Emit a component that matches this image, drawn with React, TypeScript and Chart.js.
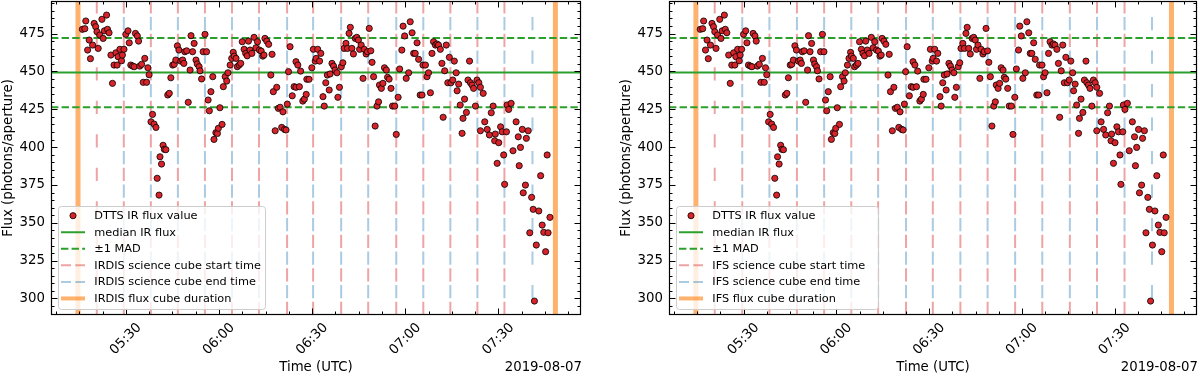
import React, { useEffect, useRef } from "react";
import { Chart, registerables } from "chart.js";
Chart.register(...registerables);

const FONT = '"DejaVu Sans", Verdana, sans-serif';

// Observation times in minutes after 05:00 UTC (2019-08-07) and DTTS IR flux
const fluxTimes = [
  16.0, 16.8, 17.1, 18.2, 17.7, 18.6, 19.3, 19.8, 20.3, 20.7, 21.1, 21.6, 22.3, 22.7, 23.1, 23.8, 24.1, 24.6, 25.2, 25.7,
  26.2, 26.8, 27.2, 27.5, 28.1, 28.6, 28.9, 29.4, 30.0, 30.7, 31.1, 31.6, 32.2, 32.7, 33.1, 33.7, 34.1, 34.5, 35.1, 35.6,
  36.1, 36.7, 37.1, 37.5, 38.1, 38.6, 39.1, 39.7, 40.1, 40.7, 41.0, 41.5, 42.0, 42.4, 42.9, 43.5, 44.0, 44.5, 45.1, 45.6,
  46.1, 46.6, 47.1, 47.7, 48.3, 48.7, 49.0, 49.6, 50.1, 50.7, 51.0, 51.5, 52.0, 52.6, 53.0, 53.6, 53.9, 54.4, 54.9, 55.5,
  56.0, 56.5, 56.9, 57.4, 58.0, 58.4, 59.0, 59.5, 59.8, 60.3, 61.0, 61.4, 62.0, 62.5, 62.9, 63.6, 64.1, 64.6, 64.9, 65.5,
  65.9, 66.5, 67.0, 67.5, 68.1, 68.6, 69.1, 69.5, 70.0, 70.6, 71.3, 71.9, 72.4, 73.0, 73.6, 74.1, 74.5, 74.8, 75.4, 76.0,
  76.7, 77.1, 77.5, 78.1, 78.6, 79.1, 79.7, 80.2, 80.6, 81.1, 81.6, 82.0, 82.4, 82.9, 83.6, 84.2, 84.8, 84.8, 85.4, 85.9,
  86.3, 87.0, 87.5, 88.1, 88.3, 89.0, 89.9, 90.4, 91.0, 91.3, 91.8, 92.4, 92.8, 93.5, 93.9, 94.4, 94.9, 95.5, 95.8, 96.4,
  96.9, 97.4, 98.0, 98.3, 98.8, 99.4, 99.9, 100.3, 100.9, 101.4, 101.9, 102.3, 102.8, 103.3, 103.9, 104.4, 104.9, 105.3, 105.8, 106.4,
  106.8, 107.4, 107.8, 108.4, 108.9, 109.3, 109.8, 110.3, 110.9, 111.4, 111.7, 112.3, 112.8, 113.3, 113.9, 114.3, 114.8, 115.4, 115.9, 116.6,
  117.1, 117.7, 118.2, 118.9, 119.3, 119.8, 120.3, 121.1, 121.6, 122.2, 122.7, 123.2, 123.8, 124.3, 124.8, 125.4, 125.7, 126.5, 127.0, 127.5,
  128.1, 128.6, 129.1, 129.7, 130.2, 130.7, 131.3, 131.8, 132.2, 132.7, 133.2, 133.7, 134.2, 134.7, 135.3, 135.8, 136.4, 136.7, 137.2, 137.7,
  138.3, 138.6, 139.1, 139.7, 140.2, 140.7, 141.0, 141.5, 142.0, 142.6, 143.1, 143.7, 144.2, 144.2, 145.1, 145.6, 146.4, 147.1, 147.7, 148.3,
  148.8, 149.0, 149.6, 150.1, 150.7, 151.2, 151.7, 152.0, 152.6, 152.8, 153.3, 154.1, 154.7, 155.7, 156.4, 156.7, 157.1, 157.7, 158.0, 158.7,
  159.0, 159.6, 160.1, 160.7, 161.2, 161.6, 162.2, 163.0, 163.6, 164.1, 164.6, 165.2, 165.7, 166.0, 166.6,
];
const fluxValues = [
  477.8, 478.2, 483.3, 470.7, 464.1, 458.4, 467.4, 481.7, 479.5, 476.2, 465.2, 474.0, 484.4, 471.8, 476.8, 487.2, 477.8, 475.5, 460.8, 442.1,
  454.2, 462.3, 454.2, 459.7, 464.6, 457.0, 460.8, 464.6, 474.5, 476.8, 468.9, 454.2, 453.5, 453.1, 475.1, 473.4, 470.0, 453.5, 454.7, 442.8,
  458.6, 442.8, 452.4, 447.8, 416.7, 421.6, 415.2, 413.0, 379.4, 368.3, 393.6, 388.8, 401.2, 398.5, 398.3, 434.4, 435.5, 445.8, 454.2, 454.7,
  457.5, 466.9, 464.1, 456.8, 457.5, 455.3, 463.0, 463.6, 429.6, 450.9, 473.6, 463.0, 468.5, 457.5, 454.9, 453.1, 450.4, 445.0, 463.0, 474.5,
  463.0, 431.1, 424.0, 436.6, 446.5, 405.1, 409.5, 409.0, 412.4, 426.0, 415.0, 439.9, 446.5, 443.6, 449.1, 454.2, 458.6, 462.6, 460.1, 458.6,
  453.1, 454.2, 455.3, 469.6, 464.6, 461.9, 460.3, 470.0, 464.1, 461.9, 472.5, 465.6, 469.6, 464.1, 463.4, 460.1, 460.8, 471.8, 470.0, 467.9,
  447.6, 461.3, 436.6, 410.8, 439.5, 425.6, 426.3, 413.0, 423.3, 411.7, 411.3, 428.4, 449.8, 466.3, 433.9, 439.9, 439.5, 456.4, 454.2, 439.9,
  450.2, 430.4, 431.7, 434.8, 444.8, 444.8, 452.4, 464.6, 456.8, 458.6, 464.6, 456.8, 461.9, 433.3, 427.1, 442.5, 447.6, 437.7, 448.3, 455.3,
  453.5, 450.9, 449.1, 432.9, 439.5, 453.1, 455.7, 465.2, 468.5, 465.2, 475.1, 479.1, 465.2, 461.5, 471.8, 472.5, 470.7, 464.6, 467.4, 445.4,
  464.6, 461.5, 463.0, 478.4, 463.6, 456.0, 446.5, 413.9, 427.1, 429.9, 441.0, 438.8, 442.1, 452.4, 450.9, 446.1, 444.9, 438.8, 427.1, 427.1,
  408.4, 432.9, 451.6, 464.1, 479.9, 473.4, 445.4, 449.1, 482.8, 475.5, 461.9, 461.9, 468.9, 458.0, 434.4, 434.4, 454.2, 454.2, 446.5, 449.1,
  435.9, 461.9, 469.6, 467.4, 468.1, 467.4, 464.6, 455.3, 419.7, 450.4, 467.4, 442.5, 459.3, 442.5, 444.3, 456.8, 449.1, 437.2, 441.6, 427.8,
  409.1, 419.0, 431.7, 422.9, 444.3, 456.8, 442.5, 441.0, 438.8, 427.1, 444.3, 442.5, 439.5, 410.8, 435.5, 416.7, 411.7, 408.0, 422.7, 427.1,
  404.2, 408.6, 389.3, 402.9, 413.4, 410.1, 394.8, 375.4, 410.1, 427.8, 424.9, 428.9, 397.6, 416.7, 406.8, 387.7, 399.8, 411.7, 369.8, 374.9,
  405.8, 410.8, 343.4, 366.8, 358.9, 298.3, 335.3, 357.8, 381.1, 348.5, 343.7, 330.9, 394.8, 343.4, 353.6,
];

const medianFlux = 449.2;
const madFlux = 22.9;

// Science cube start / end times (minutes after 05:00 UTC)
const irdisStartTimes = [20.65, 29.35, 38.06, 46.77, 55.48, 64.19, 72.9, 81.94, 90.32, 99.35, 108.06, 117.1, 125.81, 134.52, 143.23, 151.94];
const irdisEndTimes = [29.35, 38.06, 46.77, 55.48, 64.19, 72.9, 81.94, 90.32, 99.35, 108.06, 117.1, 125.81, 134.52, 143.23, 151.94, 160.97];
const ifsStartTimes = [20.68, 29.58, 38.36, 47.26, 56.05, 64.83, 73.51, 82.53, 91.19, 100.1, 108.9, 117.8, 126.58, 135.49, 144.27, 153.17];
const ifsEndTimes = [29.58, 38.36, 47.26, 56.05, 64.83, 73.51, 82.53, 91.19, 100.1, 108.9, 117.8, 126.58, 135.49, 144.27, 153.17, 162.05];
const fluxCubeTimes = [14.6, 168.35];

const xTickValues = [30, 60, 90, 120, 150];
const xTickLabels = ["05:30", "06:00", "06:30", "07:00", "07:30"];
const yTickValues = [300, 325, 350, 375, 400, 425, 450, 475];
const dateLabel = "2019-08-07";

const X_MIN = 5.9;
const X_MAX = 176.6;
const Y_MIN = 289.1;
const Y_MAX = 496.5;

const RED = "#d9232a";
const GREEN = "#2ca02c";
const START_COL = "rgba(214,39,40,0.42)";
const END_COL = "rgba(31,119,180,0.38)";
const ORANGE = "rgba(255,127,14,0.6)";
const DASH_V = [13.3, 20.2];
const DASH_G = [7.4, 3.2];

type PanelCfg = {
  left: number;
  width: number;
  padRight: number;
  instrument: string;
  starts: number[];
  ends: number[];
  legendWidth: number;
};

const panels: PanelCfg[] = [
  { left: 0, width: 600, padRight: 19, instrument: "IRDIS", starts: irdisStartTimes, ends: irdisEndTimes, legendWidth: 207 },
  { left: 618, width: 582, padRight: 3, instrument: "IFS", starts: ifsStartTimes, ends: ifsEndTimes, legendWidth: 202 },
];

function vline(t: number, color: string, width: number, dash: number[], offset: number) {
  return {
    data: [
      { x: t, y: Y_MIN },
      { x: t, y: Y_MAX },
    ],
    showLine: true,
    borderColor: color,
    borderWidth: width,
    borderDash: dash,
    borderDashOffset: offset,
    borderCapStyle: "butt",
    pointRadius: 0,
    pointHoverRadius: 0,
    fill: false,
  };
}

function hline(v: number, color: string, width: number, dash: number[]) {
  return {
    data: [
      { x: X_MIN, y: v },
      { x: X_MAX, y: v },
    ],
    showLine: true,
    borderColor: color,
    borderWidth: width,
    borderDash: dash,
    borderCapStyle: "butt",
    pointRadius: 0,
    pointHoverRadius: 0,
    fill: false,
  };
}

function Panel({ cfg }: { cfg: PanelCfg }) {
  const ref = useRef<HTMLCanvasElement>(null);
  useEffect(() => {
    const canvas = ref.current!;
    const points = fluxTimes.map((t, i) => ({ x: t, y: fluxValues[i] }));
    const datasets: any[] = [
      {
        data: points,
        backgroundColor: RED,
        borderColor: "#000",
        borderWidth: 0.8,
        pointRadius: 3.1,
        pointHoverRadius: 3.1,
        showLine: false,
      },
      hline(medianFlux, GREEN, 2, []),
      hline(medianFlux + madFlux, GREEN, 2, DASH_G),
      hline(medianFlux - madFlux, GREEN, 2, DASH_G),
      ...cfg.starts.map((t) => vline(t, START_COL, 2, DASH_V, 0)),
      ...cfg.ends.map((t) => vline(t, END_COL, 2, DASH_V, 16.75)),
      ...fluxCubeTimes.map((t) => vline(t, ORANGE, 5, [], 0)),
    ];

    const legendItems = [
      { kind: "marker", text: "DTTS IR flux value" },
      { kind: "line", color: GREEN, width: 2, dash: [], text: "median IR flux" },
      { kind: "line", color: GREEN, width: 2, dash: DASH_G, text: "\u00b11 MAD" },
      { kind: "line", color: START_COL, width: 2, dash: [10, 4.3], text: `${cfg.instrument} science cube start time` },
      { kind: "line", color: END_COL, width: 2, dash: [10, 4.3], text: `${cfg.instrument} science cube end time` },
      { kind: "line", color: ORANGE, width: 4, dash: [], text: `${cfg.instrument} flux cube duration` },
    ];

    const deco = {
      id: "deco",
      afterDatasetsDraw(chart: any) {
        const ctx = chart.ctx as CanvasRenderingContext2D;
        const { left, right, top, bottom } = chart.chartArea;
        const xs = chart.scales.x;
        const ys = chart.scales.y;
        ctx.save();
        ctx.strokeStyle = "#000";
        ctx.lineWidth = 1;
        ctx.setLineDash([]);
        // ticks, inward on all four sides
        const tick = (x1: number, y1: number, x2: number, y2: number) => {
          ctx.beginPath();
          ctx.moveTo(x1, y1);
          ctx.lineTo(x2, y2);
          ctx.stroke();
        };
        for (let v = Math.ceil(X_MIN / 7.5) * 7.5; v <= X_MAX; v += 7.5) {
          const major = xTickValues.includes(v);
          const len = major ? 6.5 : 3.5;
          const x = Math.round(xs.getPixelForValue(v)) + 0.5;
          tick(x, bottom, x, bottom - len);
          tick(x, top, x, top + len);
        }
        for (let v = Math.ceil(Y_MIN / 5) * 5; v <= Y_MAX; v += 5) {
          const major = yTickValues.includes(v);
          const len = major ? 6.5 : 3.5;
          const y = Math.round(ys.getPixelForValue(v)) + 0.5;
          tick(left, y, left + len, y);
          tick(right, y, right - len, y);
        }
        ctx.lineWidth = 1.2;
        ctx.strokeRect(Math.round(left) + 0.5, Math.round(top) + 0.5, Math.round(right - left) - 1, Math.round(bottom - top) - 1);

        // legend
        const bx = left + 7;
        const by = bottom - 109;
        const bw = cfg.legendWidth;
        const bh = 103;
        ctx.beginPath();
        (ctx as any).roundRect(bx + 0.5, by + 0.5, bw, bh, 3);
        ctx.fillStyle = "rgba(255,255,255,0.8)";
        ctx.fill();
        ctx.strokeStyle = "#cccccc";
        ctx.lineWidth = 1;
        ctx.stroke();
        ctx.font = `11.3px ${FONT}`;
        ctx.textAlign = "left";
        ctx.textBaseline = "middle";
        legendItems.forEach((it: any, i) => {
          const cy = by + 9.7 + i * 16.55;
          const hx0 = bx + 3;
          const hx1 = bx + 27;
          if (it.kind === "marker") {
            ctx.beginPath();
            ctx.arc((hx0 + hx1) / 2, cy, 3.1, 0, Math.PI * 2);
            ctx.fillStyle = RED;
            ctx.fill();
            ctx.strokeStyle = "#000";
            ctx.lineWidth = 0.8;
            ctx.setLineDash([]);
            ctx.stroke();
          } else {
            ctx.beginPath();
            ctx.setLineDash(it.dash);
            ctx.strokeStyle = it.color;
            ctx.lineWidth = it.width;
            ctx.moveTo(hx0, cy);
            ctx.lineTo(hx1, cy);
            ctx.stroke();
            ctx.setLineDash([]);
          }
          ctx.fillStyle = "#000";
          ctx.fillText(it.text, bx + 36.3, cy + 0.5);
        });

        // x tick labels, titles
        ctx.fillStyle = "#000";
        ctx.font = `13.3px ${FONT}`;
        xTickValues.forEach((v, i) => {
          const x = xs.getPixelForValue(v);
          ctx.save();
          ctx.translate(x, bottom + 24);
          ctx.rotate(-Math.PI / 4);
          ctx.textAlign = "center";
          ctx.textBaseline = "middle";
          ctx.fillText(xTickLabels[i], 0, 0);
          ctx.restore();
        });
        ctx.textAlign = "center";
        ctx.textBaseline = "middle";
        ctx.fillText("Time (UTC)", (left + right) / 2, 368);
        ctx.textAlign = "right";
        ctx.fillText(dateLabel, right + 1, 368);
        ctx.restore();
      },
    };

    const chart = new Chart(canvas, {
      type: "scatter",
      data: { datasets },
      options: {
        animation: false,
        responsive: false,
        maintainAspectRatio: false,
        devicePixelRatio: 1,
        events: [],
        layout: { autoPadding: false, padding: { left: 0, right: cfg.padRight, top: 1, bottom: 0 } },
        plugins: { legend: { display: false }, tooltip: { enabled: false } },
        scales: {
          x: {
            type: "linear",
            min: X_MIN,
            max: X_MAX,
            grid: { display: false, drawTicks: false },
            border: { display: false },
            ticks: { display: false },
            afterFit: (s: any) => {
              s.height = 63;
              s.paddingLeft = 0;
              s.paddingRight = 0;
            },
          },
          y: {
            type: "linear",
            min: Y_MIN,
            max: Y_MAX,
            grid: { display: false, drawTicks: false },
            border: { display: false },
            ticks: { color: "#000", font: { family: FONT, size: 13.3 }, padding: 6 },
            afterBuildTicks: (s: any) => {
              s.ticks = yTickValues.map((v) => ({ value: v }));
            },
            afterFit: (s: any) => {
              s.width = 51;
              s.paddingTop = 0;
              s.paddingBottom = 0;
            },
            title: {
              display: true,
              text: "Flux (photons/aperture)",
              color: "#000",
              font: { family: FONT, size: 13.3 },
              padding: { top: 1, bottom: 0 },
            },
          },
        },
      } as any,
      plugins: [deco],
    });
    return () => chart.destroy();
  }, [cfg]);

  return (
    <canvas
      ref={ref}
      width={cfg.width}
      height={378}
      style={{ position: "absolute", left: cfg.left, top: 0, width: cfg.width, height: 378, display: "block" }}
    />
  );
}

export default function App() {
  return (
    <div style={{ position: "fixed", left: 0, top: 0, width: 1200, height: 378, background: "#fff", overflow: "hidden" }}>
      {panels.map((p) => (
        <Panel key={p.instrument} cfg={p} />
      ))}
    </div>
  );
}
